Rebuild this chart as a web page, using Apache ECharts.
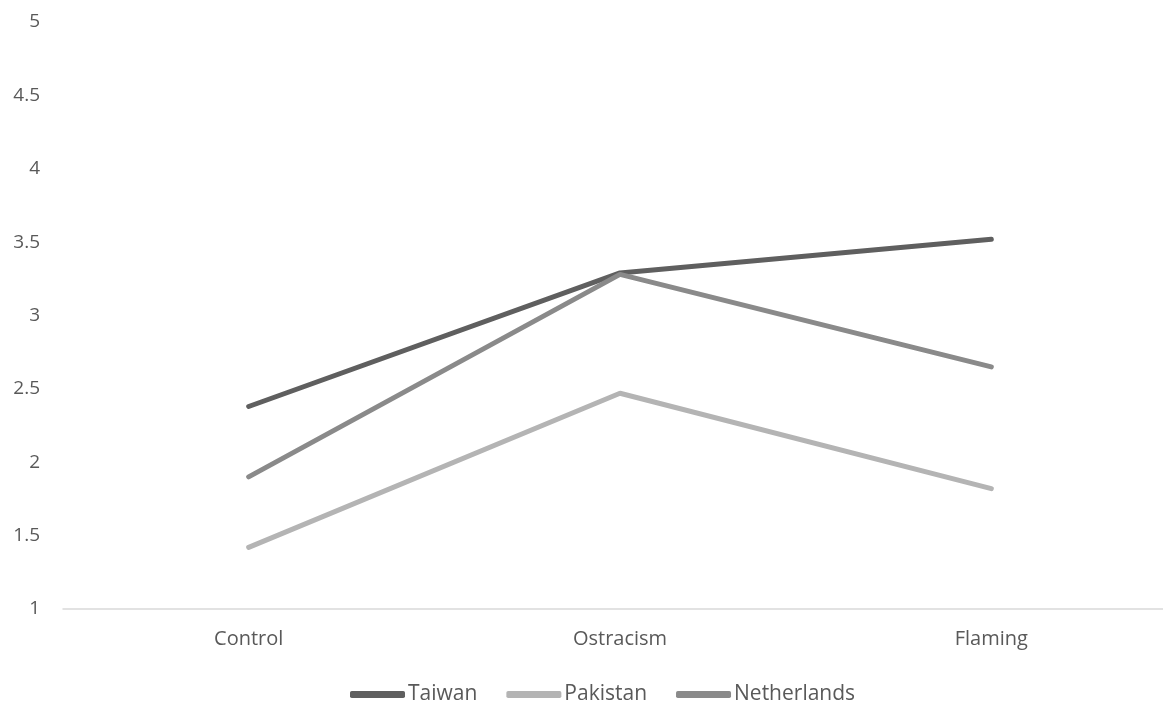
<!DOCTYPE html>
<html><head><meta charset="utf-8">
<script src="https://cdn.jsdelivr.net/npm/echarts@6/dist/echarts.min.js"></script>
<style>html,body{margin:0;padding:0;background:#fff;overflow:hidden}#c{width:1190px;height:703px}</style>
</head><body><div id="c"></div>
<script>
const categories = ['Control', 'Ostracism', 'Flaming'];
const taiwan = [2.38, 3.29, 3.52];
const pakistan = [1.42, 2.47, 1.82];
const netherlands = [1.90, 3.28, 2.65];
const seriesNames = ['Taiwan', 'Pakistan', 'Netherlands'];
const colors = ['#5f5f5f', '#b4b4b4', '#8a8a8a'];

const chart = echarts.init(document.getElementById('c'));
const font = 'Open Sans';
chart.setOption({
  animation: false,
  color: colors,
  grid: { left: 63, right: 13, top: 22, height: 587, containLabel: false },
  legend: {
    top: 679, left: 345,
    itemWidth: 55, itemHeight: 7, itemGap: 29,
    icon: 'roundRect',
    textStyle: { color: '#595959', fontSize: 21, fontFamily: font, padding: [0, 0, 0, -2] },
    data: seriesNames
  },
  xAxis: {
    type: 'category', data: categories, boundaryGap: true,
    axisLine: { lineStyle: { color: '#d9d9d9', width: 1.5 } },
    axisTick: { show: false },
    axisLabel: { color: '#595959', fontSize: 20, fontFamily: font, margin: 20 }
  },
  yAxis: {
    type: 'value', min: 1, max: 5, interval: 0.5,
    axisLine: { show: false }, axisTick: { show: false },
    splitLine: { show: false },
    axisLabel: { color: '#595959', fontSize: 19, fontFamily: font, margin: 23 }
  },
  series: [
    { name: seriesNames[0], type: 'line', data: taiwan, symbol: 'none', lineStyle: { width: 5, cap: 'round' } },
    { name: seriesNames[1], type: 'line', data: pakistan, symbol: 'none', lineStyle: { width: 5, cap: 'round' } },
    { name: seriesNames[2], type: 'line', data: netherlands, symbol: 'none', lineStyle: { width: 5, cap: 'round' } }
  ]
});
</script></body></html>
